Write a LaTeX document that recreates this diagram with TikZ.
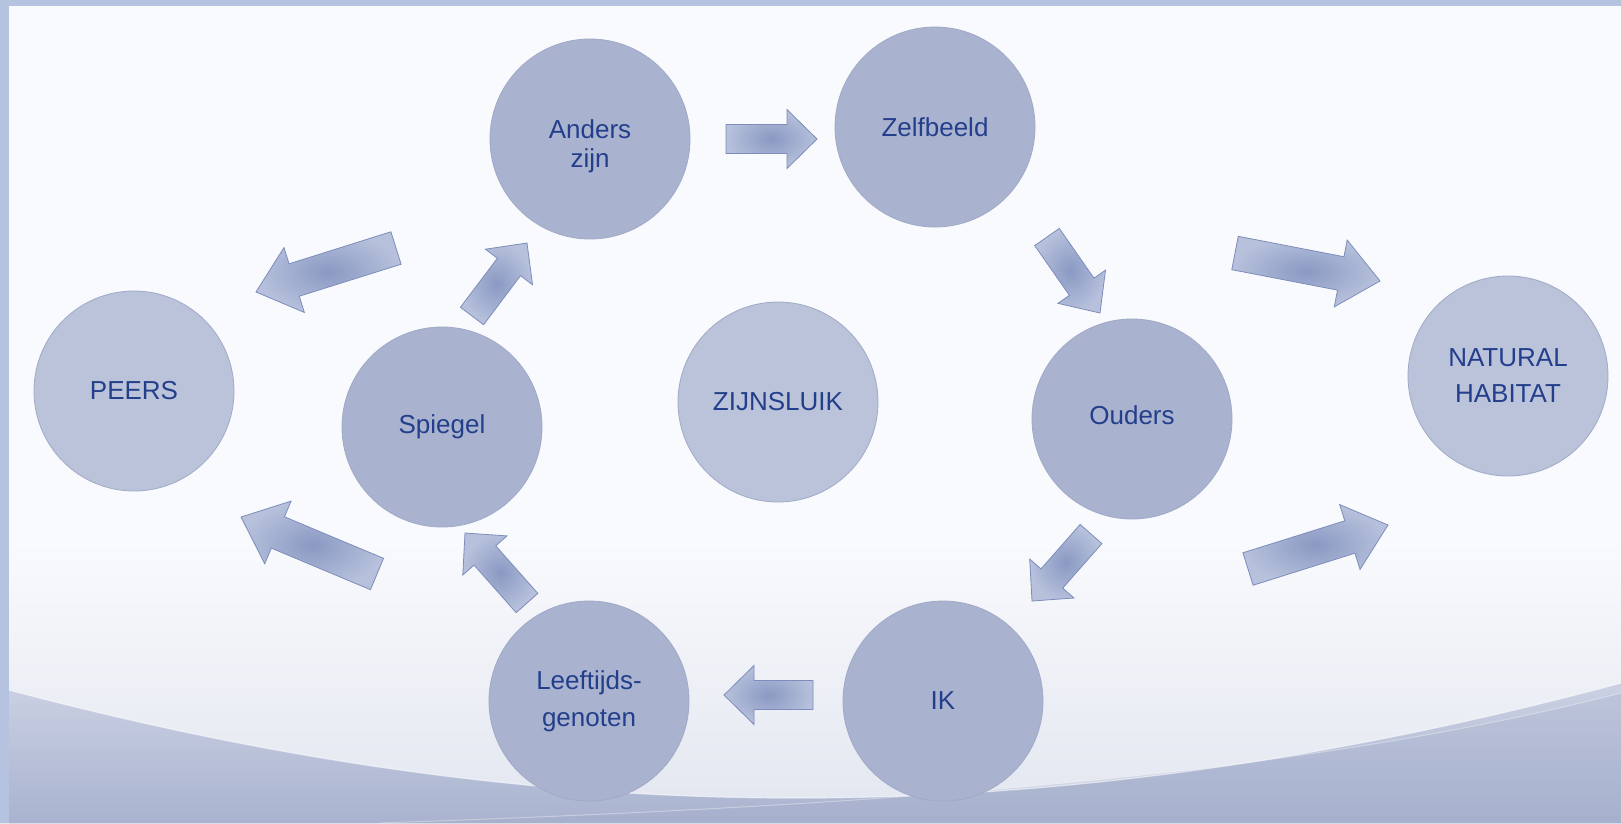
\documentclass[tikz,border=0pt]{standalone}
\usepackage{fontspec}
\setmainfont{Liberation Sans}
\usetikzlibrary{calc}
\definecolor{bgtop}{HTML}{F9FAFD}
\definecolor{bgmid}{HTML}{E2E6EF}
\definecolor{wavea}{HTML}{CBD1E3}
\definecolor{waveb}{HTML}{A2ADCB}
\definecolor{framec}{HTML}{B5C2E0}
\definecolor{circdark}{HTML}{A9B3CF}
\definecolor{circlight}{HTML}{BAC3D9}
\definecolor{circedge}{HTML}{A0AAC8}
\definecolor{textblue}{HTML}{233E8B}
\definecolor{arrin}{HTML}{8A99C3}
\definecolor{arrout}{HTML}{B7C1DC}
\definecolor{arredge}{HTML}{7D8DBB}
\tikzset{
  circ/.style={circle, minimum size=200pt, inner sep=0pt, fill=circdark, draw=circedge,
    line width=0.8pt, text=textblue, align=center,
    font=\fontsize{26}{30}\selectfont},
  circl/.style={circ, fill=circlight},
  barrow/.style={inner color=arrin, outer color=arrout, draw=arredge, line width=0.8pt, line join=miter}
}
\newcommand{\blockarrow}[6]{%
  \coordinate (#1-b) at ($(#3)!#6!(#2)$);
  \shadedraw[barrow] ($(#2)!#4!90:(#3)$) -- ($(#1-b)!#4!-90:(#2)$) -- ($(#1-b)!#5!-90:(#2)$)
    -- (#3) -- ($(#1-b)!#5!90:(#2)$) -- ($(#1-b)!#4!90:(#2)$) -- ($(#2)!#4!-90:(#3)$) -- cycle;
}
\begin{document}
\begin{tikzpicture}[x=1pt,y=-1pt]
\useasboundingbox (0,0) rectangle (1621,823);
% background
\fill[bgtop] (0,0) rectangle (1621,823);
\shade[top color=bgtop, bottom color=bgmid] (0,540) rectangle (1621,823);
\shade[top color=wavea, bottom color=waveb]
  (9,690) .. controls (500,820) and (1000,850) .. (1621,683) -- (1621,823) -- (9,823) -- cycle;
\fill[waveb, opacity=0.3]
  (380,823) .. controls (900,805) and (1300,775) .. (1621,693) -- (1621,823) -- cycle;
\draw[white, opacity=0.55, line width=1.2pt]
  (9,690) .. controls (500,820) and (1000,850) .. (1621,683);
\draw[white, opacity=0.35, line width=1pt]
  (380,823) .. controls (900,805) and (1300,775) .. (1621,693);
\fill[framec] (0,0) rectangle (1621,6);
\fill[framec] (0,0) rectangle (9,823);
% circles
\node[circ] (anders) at (590,139) {\rule{0pt}{33pt}Anders\\[-1pt]zijn};
\node[circ] (zelf) at (935,127) {Zelfbeeld};
\node[circ] (ouders) at (1132,419) {\rule[-8pt]{0pt}{8pt}Ouders};
\node[circl] (natural) at (1508,376) {NATURAL\\[6pt]HABITAT};
\node[circ] (ik) at (943,701) {IK};
\node[circ] (leeft) at (589,701) {Leeftijds-\\[7pt]genoten};
\node[circ] (spiegel) at (442,427) {Spiegel};
\node[circl] (peers) at (134,391) {PEERS};
\node[circl] (zijn) at (778,402) {ZIJNSLUIK};
% arrow end points
\coordinate (a1t) at (726,139);  \coordinate (a1h) at (817,139);
\coordinate (a2t) at (1047,237); \coordinate (a2h) at (1100,313);
\coordinate (a3t) at (472,316);  \coordinate (a3h) at (527,243);
\coordinate (a5t) at (1091,534); \coordinate (a5h) at (1032,601);
\coordinate (a6t) at (813,695);  \coordinate (a6h) at (724,695);
\coordinate (a7t) at (527,603);  \coordinate (a7h) at (465,533);
\coordinate (a4t) at (396,248);  \coordinate (a4h) at (256,292);
\coordinate (a8t) at (377,574);  \coordinate (a8h) at (241,517);
\coordinate (a9t) at (1235,253); \coordinate (a9h) at (1380,281);
\coordinate (a10t) at (1248,569); \coordinate (a10h) at (1388,525);
% arrows
\blockarrow{a1}{a1t}{a1h}{14.5pt}{29.5pt}{30pt}
\blockarrow{a2}{a2t}{a2h}{15pt}{29pt}{32pt}
\blockarrow{a3}{a3t}{a3h}{14.5pt}{29.5pt}{30pt}
\blockarrow{a5}{a5t}{a5h}{14.5pt}{29.5pt}{30pt}
\blockarrow{a6}{a6t}{a6h}{14.5pt}{29.5pt}{30pt}
\blockarrow{a7}{a7t}{a7h}{14.5pt}{29.5pt}{30pt}
\blockarrow{a4}{a4t}{a4h}{17pt}{34pt}{40pt}
\blockarrow{a8}{a8t}{a8h}{17pt}{34pt}{40pt}
\blockarrow{a9}{a9t}{a9h}{17pt}{34pt}{40pt}
\blockarrow{a10}{a10t}{a10h}{17pt}{34pt}{40pt}
\end{tikzpicture}
\end{document}
